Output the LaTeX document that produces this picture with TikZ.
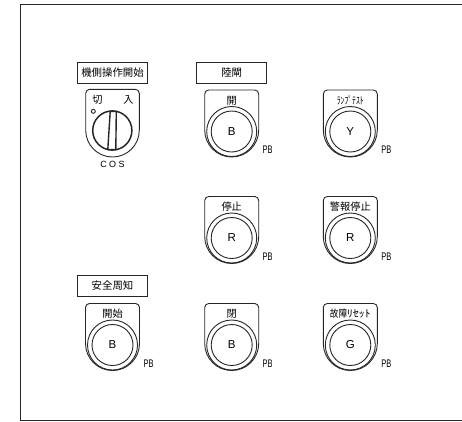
\documentclass[tikz,border=0pt]{standalone}
\usepackage{fontspec}
\setmainfont{Liberation Sans}
\newfontfamily\jpfont{Noto Sans CJK JP}
\tikzset{
 x=1pt,y=-1pt,
 ln/.style={draw=black!85,line width=0.9pt},
 titlebox/.style={ln,minimum width=70pt,minimum height=21pt,inner sep=0pt,font=\jpfont\fontsize{10.4}{11}\selectfont},
 lab/.style={inner sep=0pt,font=\jpfont\fontsize{10.2}{11}\selectfont},
 keylab/.style={inner sep=0pt,font=\fontsize{11.5}{12}\selectfont},
 pblab/.style={inner sep=0pt,font=\fontsize{11}{12}\selectfont},
 pics/pbtn/.style n args={3}{code={
   \draw[ln] (-27,-1.5) -- (-27,-37.5) arc[start angle=180,end angle=270,radius=4] -- (23,-41.5)
     arc[start angle=270,end angle=360,radius=4] -- (27,-1.5)
     arc[start angle=0,end angle=180,radius=27] -- cycle;
   \draw[ln] (0,0) circle[radius=25];
   \draw[ln] (0,0) circle[radius=20.5];
   \node[keylab] at (0,0) {#1};
   \node[lab] at (0,-31) {#2};
   \node[pblab] at (36,18.5) {\scalebox{.68}[1]{#3}};
 }}
}
\begin{document}
\begin{tikzpicture}
\useasboundingbox (0,0) rectangle (462,421);
\draw[ln] (462,4.5) -- (20.5,4.5) -- (20.5,420.3) -- (462,420.3);

\node[titlebox] (t1) at (112.5,73) {機側操作開始};
\node[titlebox] (t2) at (231.7,73) {陸閘};
\node[titlebox] (t3) at (112.5,285.8) {安全周知};

% COS switch
\draw[ln] (85.7,130.2) -- (85.7,93.3) arc[start angle=180,end angle=270,radius=4] -- (135.3,89.3)
  arc[start angle=270,end angle=360,radius=4] -- (139.3,130.2)
  arc[start angle=0,end angle=180,radius=26.8] -- cycle;
\draw[ln,line width=1.5pt] (112.3,130.5) circle[radius=19.6];
\draw[ln,line width=1.4pt,fill=white] (110.2,111.5) -- (116.3,111.5) -- (115.8,149.5) -- (107.8,149.5) -- cycle;
\draw[ln] (93.3,111.3) circle[radius=2];
\node[lab] (kiri) at (97.5,100) {切};
\node[lab] (iri) at (128.5,100) {入};
\node[inner sep=0pt,font=\fontsize{9}{10}\selectfont] (cos) at (112.5,164.5) {C O S};

\pic at (231.7,131.5) {pbtn={B}{開}{PB}};
\pic at (350.3,131.5) {pbtn={Y}{\scalebox{.75}[1]{ﾗﾝﾌﾟﾃｽﾄ}}{PB}};
\pic at (231.7,238) {pbtn={R}{停止}{PB}};
\pic at (350.3,238) {pbtn={R}{警報停止}{PB}};
\pic at (112.5,345) {pbtn={B}{開始}{PB}};
\pic at (231.7,345) {pbtn={B}{閉}{PB}};
\pic at (350.3,345) {pbtn={G}{\scalebox{.85}[1]{故障}\scalebox{1.15}[1]{ﾘｾｯﾄ}}{PB}};
\end{tikzpicture}
\end{document}
